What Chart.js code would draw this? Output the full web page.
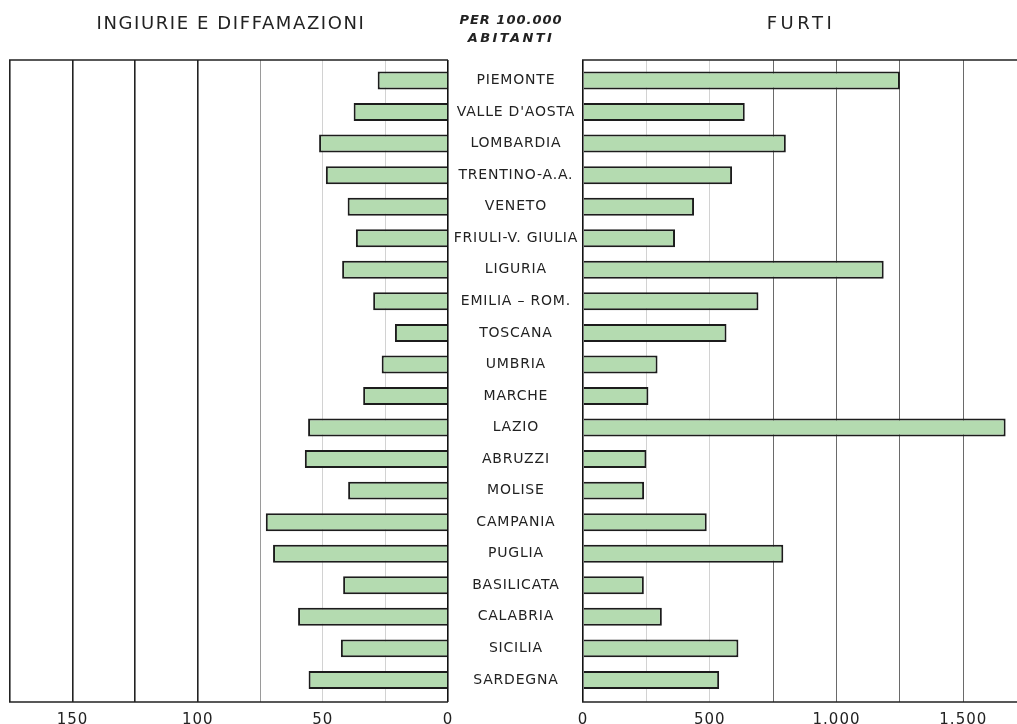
<!DOCTYPE html>
<html><head><meta charset="utf-8">
<script src="https://cdn.jsdelivr.net/npm/chart.js@4.4.0/dist/chart.umd.min.js"></script>
<style>
html,body{margin:0;padding:0;background:#fff;width:1017px;height:724px;overflow:hidden;}
#wrap{position:relative;width:1017px;height:724px;overflow:hidden;}
canvas{position:absolute;top:0;}
#left{left:0;}
#right{left:560px;}
.t{position:absolute;font-family:"DejaVu Sans",sans-serif;color:#222;white-space:nowrap;transform:translate(-50%,-50%);}
.big{font-size:18px;letter-spacing:1.6px;}
.small{font-size:13px;font-style:italic;font-weight:bold;}
</style></head><body>
<div id="wrap">
<canvas id="left" width="583" height="739"></canvas>
<canvas id="right" width="457" height="739"></canvas>
<div class="t big" style="left:231px;top:22px;">INGIURIE E DIFFAMAZIONI</div>
<div class="t big" style="left:801px;top:22px;letter-spacing:3.5px;">FURTI</div>
<div class="t small" style="left:511px;top:19px;letter-spacing:1px;">PER 100.000</div>
<div class="t small" style="left:511px;top:37px;letter-spacing:2.4px;">ABITANTI</div>
</div>
<script>
const regions = ["PIEMONTE","VALLE D'AOSTA","LOMBARDIA","TRENTINO-A.A.","VENETO","FRIULI-V. GIULIA","LIGURIA","EMILIA – ROM.","TOSCANA","UMBRIA","MARCHE","LAZIO","ABRUZZI","MOLISE","CAMPANIA","PUGLIA","BASILICATA","CALABRIA","SICILIA","SARDEGNA"];
const ingiurie = [28.1,37.7,51.5,48.8,40.1,36.8,42.3,29.9,21.2,26.5,33.9,55.9,57.2,39.9,72.8,69.9,41.9,59.9,42.8,55.7];
const furti = [1250,638,800,588,438,363,1186,692,566,294,258,1667,250,241,488,790,240,311,613,537];
const leftGrid = [0,25,50,75,100,125,150,175];
const leftTicks = [0,50,100,150];
const rightGrid = [0,250,500,750,1000,1250,1500];
const rightTicks = [0,500,1000,1500];

const FONT = '"DejaVu Sans", sans-serif';
const TXT = '#222';
const BAR_FILL = '#b4dbb0';
const BAR_EDGE = '#1c1c1c';

function fmt(v){ return String(v).replace(/\B(?=(\d{3})+(?!\d))/g, '.'); }

const spacing = {
  id:'spacing',
  beforeLayout(c){ c.ctx.letterSpacing = '1px'; },
  beforeDraw(c){ c.ctx.letterSpacing = '1px'; }
};
const frame = {
  id:'frame',
  afterDraw(c, args, opts){
    const ctx = c.ctx, a = c.chartArea;
    ctx.save();
    ctx.strokeStyle = '#222'; ctx.lineWidth = 1.5;
    const r = opts.toEdge ? c.width : a.right;
    ctx.beginPath();
    ctx.moveTo(a.left - 1, a.top); ctx.lineTo(r, a.top);
    ctx.moveTo(a.left - 1, a.bottom); ctx.lineTo(r, a.bottom);
    ctx.stroke();
    ctx.restore();
  }
};
// region names centred in the gap between the two panels, placed with the y scale
const midLabels = {
  id:'midLabels',
  afterDraw(c){
    const ys = c.scales.y, a = c.chartArea, ctx = c.ctx;
    const cx = (a.right + c.width) / 2;
    ctx.save();
    ctx.font = '14px ' + FONT;
    ctx.letterSpacing = '0.8px';
    ctx.fillStyle = TXT;
    ctx.textAlign = 'center';
    ctx.textBaseline = 'middle';
    regions.forEach((r, i) => ctx.fillText(r, cx + 0.4, ys.getPixelForValue(i)));
    ctx.restore();
  }
};

function yScale(){
  return {
    type:'linear', reverse:true, min:-0.65, max:19.7, offset:false, display:false,
    afterBuildTicks(s){ s.ticks = regions.map((_,i)=>({value:i})); }
  };
}
function xTickFont(){ return {family:FONT, size:15, lineHeight:1}; }

// Left chart: ingiurie e diffamazioni (axis reversed)
new Chart(document.getElementById('left'), {
  type:'bar',
  data:{ datasets:[{
    data: ingiurie.map((v,i)=>({x:v, y:i})),
    backgroundColor: BAR_FILL, borderColor: BAR_EDGE, borderWidth: 2,
    barPercentage: 0.57, categoryPercentage: 1
  }]},
  options:{
    responsive:false, animation:false, indexAxis:'y',
    layout:{padding:{left:10, top:60, right:135, bottom:0}},
    plugins:{legend:{display:false}, tooltip:{enabled:false}, frame:{toEdge:false}},
    scales:{
      x:{
        type:'linear', reverse:true, min:0, max:175, offset:false,
        afterBuildTicks(s){ s.ticks = leftGrid.map(v=>({value:v})); },
        ticks:{autoSkip:false, maxRotation:0, padding:11, color:TXT, font:xTickFont(),
          callback:v => leftTicks.includes(v) ? String(v) : ''},
        grid:{drawTicks:false,
          color: c => { const v = c.tick.value; return v === 0 ? '#111' : (v <= 50 ? '#d2d2d2' : (v === 75 ? '#9a9a9a' : '#222')); },
          lineWidth: c => { const v = c.tick.value; return (v === 0 || v >= 100) ? 1.6 : 1; }},
        border:{display:false}
      },
      y: yScale()
    }
  },
  plugins:[spacing, frame, midLabels]
});

// Right chart: furti
new Chart(document.getElementById('right'), {
  type:'bar',
  data:{ datasets:[{
    data: furti.map((v,i)=>({x:v, y:i})),
    backgroundColor: BAR_FILL, borderColor: BAR_EDGE, borderWidth: 2,
    barPercentage: 0.57, categoryPercentage: 1
  }]},
  options:{
    responsive:false, animation:false, indexAxis:'y',
    layout:{padding:{left:23, top:60, right:3, bottom:0}},
    plugins:{legend:{display:false}, tooltip:{enabled:false}, frame:{toEdge:true}},
    scales:{
      x:{
        type:'linear', min:0, max:1700, offset:false,
        afterBuildTicks(s){ s.ticks = rightGrid.map(v=>({value:v})); },
        ticks:{autoSkip:false, maxRotation:0, padding:11, color:TXT, font:xTickFont(),
          callback:v => rightTicks.includes(v) ? fmt(v) : ''},
        grid:{drawTicks:false,
          color: c => { const v = c.tick.value; return v === 0 ? '#111' : (v <= 500 ? '#d2d2d2' : '#6a6a6a'); },
          lineWidth: c => c.tick.value === 0 ? 1.6 : 1},
        border:{display:false}
      },
      y: yScale()
    }
  },
  plugins:[spacing, frame]
});
</script>
</body></html>
